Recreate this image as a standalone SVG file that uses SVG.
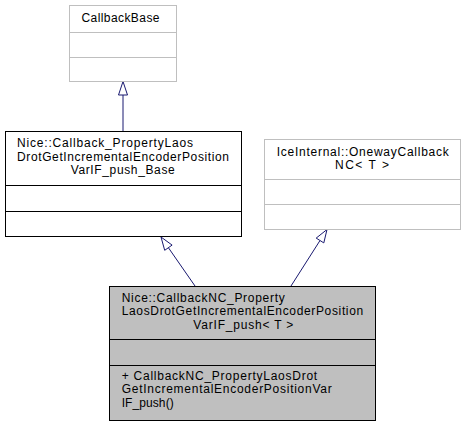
<svg xmlns="http://www.w3.org/2000/svg" width="466" height="427" viewBox="0 0 466 427">
<style>
text{font-family:"Liberation Sans",Arial,Helvetica,sans-serif;font-size:12px;fill:#000}
.ext{fill:#fff;stroke:#bfbfbf;stroke-width:1}
.doc{fill:#fff;stroke:#000;stroke-width:1}
.cur{fill:#bfbfbf;stroke:#000;stroke-width:1}
.dg{stroke:#bfbfbf;stroke-width:1}
.db{stroke:#000;stroke-width:1}
.edge{stroke:#191970;stroke-width:1;fill:none}
.head{fill:#fff;stroke:#191970;stroke-width:1}
</style>
<rect width="466" height="427" fill="#fff"/>
<g id="connectors">
  <line class="edge" x1="123" y1="131" x2="123" y2="95"/>
  <polygon class="head" points="123,81.5 118.5,95 127.5,95"/>
  <line class="edge" x1="195" y1="286" x2="168.4" y2="247.7"/>
  <polygon class="head" points="161,237 172.1,245.1 164.7,250.3"/>
  <line class="edge" x1="291" y1="286" x2="320" y2="240.5"/>
  <polygon class="head" points="327,229.5 323.8,242.9 316.2,238.1"/>
</g>
<g id="node-callbackbase">
  <rect class="ext" x="69.5" y="5.5" width="107" height="76"/>
  <line class="dg" x1="69.5" y1="32.5" x2="176.5" y2="32.5"/>
  <line class="dg" x1="69.5" y1="57.5" x2="176.5" y2="57.5"/>
  <text x="81.5" y="22" textLength="78">CallbackBase</text>
</g>
<g id="node-base">
  <rect class="doc" x="5.5" y="131.5" width="236" height="105"/>
  <line class="db" x1="5.5" y1="185.5" x2="241.5" y2="185.5"/>
  <line class="db" x1="5.5" y1="211.5" x2="241.5" y2="211.5"/>
  <text x="17" y="147" textLength="176">Nice::Callback_PropertyLaos</text>
  <text x="17" y="160.5" textLength="212">DrotGetIncrementalEncoderPosition</text>
  <text x="70.7" y="174" textLength="104">VarIF_push_Base</text>
</g>
<g id="node-oneway">
  <rect class="ext" x="264.5" y="139.5" width="196" height="90"/>
  <line class="dg" x1="264.5" y1="179.5" x2="460.5" y2="179.5"/>
  <line class="dg" x1="264.5" y1="204.5" x2="460.5" y2="204.5"/>
  <text x="276.7" y="155.5" textLength="172">IceInternal::OnewayCallback</text>
  <text x="335" y="169" textLength="54">NC&lt; T &gt;</text>
</g>
<g id="node-callbacknc">
  <rect class="cur" x="109.5" y="286.5" width="266" height="134"/>
  <line class="db" x1="109.5" y1="339.5" x2="375.5" y2="339.5"/>
  <line class="db" x1="109.5" y1="365.5" x2="375.5" y2="365.5"/>
  <text x="121.7" y="301.5" textLength="163">Nice::CallbackNC_Property</text>
  <text x="121.7" y="315" textLength="241.5">LaosDrotGetIncrementalEncoderPosition</text>
  <text x="193.3" y="328.5" textLength="100">VarIF_push&lt; T &gt;</text>
  <text x="121.7" y="379.5" textLength="195.5">+ CallbackNC_PropertyLaosDrot</text>
  <text x="121.7" y="393" textLength="210">GetIncrementalEncoderPositionVar</text>
  <text x="121.7" y="406.5" textLength="52">IF_push()</text>
</g>
</svg>
